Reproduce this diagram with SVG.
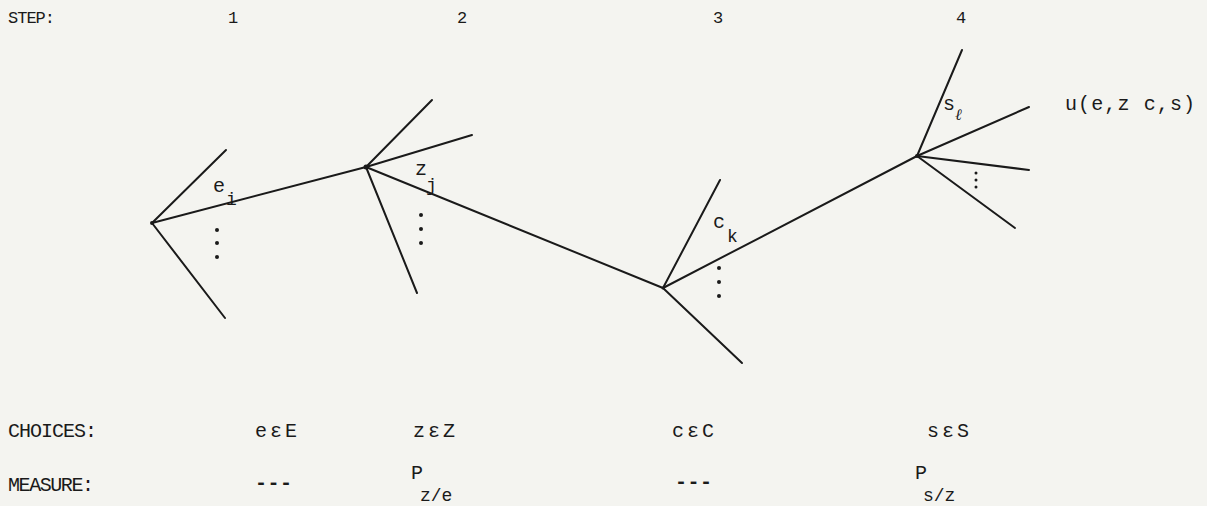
<svg xmlns="http://www.w3.org/2000/svg" width="1207" height="506" viewBox="0 0 1207 506">
<style>
.h{font-family:"Liberation Mono","DejaVu Sans Mono",monospace;font-size:17px;fill:#1a1a1a}
.t{font-family:"Liberation Mono","DejaVu Sans Mono",monospace;font-size:20px;fill:#1a1a1a}
.lb{font-family:"Liberation Mono","DejaVu Sans Mono",monospace;font-size:20px;fill:#1a1a1a}
.sb{font-family:"Liberation Mono","DejaVu Sans Mono",monospace;font-size:18px;fill:#1a1a1a}
.l{stroke:#1a1a1a;stroke-width:2;fill:none;stroke-linecap:round}
.d{fill:#1a1a1a}
</style>
<rect width="1207" height="506" fill="#f4f4f0"/>
<g id="header">
<text class="h" x="8" y="23" textLength="47">STEP:</text>
<text class="h" x="228" y="23">1</text>
<text class="h" x="457" y="23">2</text>
<text class="h" x="713" y="23">3</text>
<text class="h" x="956" y="23">4</text>
</g>
<g id="connectors">
<line class="l" x1="152" y1="223" x2="226" y2="150"/>
<line class="l" x1="152" y1="223" x2="225" y2="318"/>
<line class="l" x1="152" y1="223" x2="366" y2="167"/>
<line class="l" x1="366" y1="167" x2="432" y2="100"/>
<line class="l" x1="366" y1="167" x2="472" y2="135"/>
<line class="l" x1="366" y1="167" x2="417" y2="293"/>
<line class="l" x1="366" y1="167" x2="663" y2="288"/>
<line class="l" x1="663" y1="288" x2="720" y2="180"/>
<line class="l" x1="663" y1="288" x2="917" y2="156"/>
<line class="l" x1="663" y1="288" x2="742" y2="363"/>
<line class="l" x1="917" y1="156" x2="962" y2="50"/>
<line class="l" x1="917" y1="156" x2="1029" y2="107"/>
<line class="l" x1="917" y1="156" x2="1029" y2="170"/>
<line class="l" x1="917" y1="156" x2="1015" y2="228"/>
</g>
<g id="node1">
<circle class="d" cx="152" cy="223" r="2"/>
<text class="lb" x="213" y="192">e</text>
<text class="sb" x="226" y="205">i</text>
<circle class="d" cx="217" cy="230" r="2"/>
<circle class="d" cx="217" cy="243" r="2"/>
<circle class="d" cx="217" cy="257" r="2"/>
</g>
<g id="node2">
<circle class="d" cx="366" cy="167" r="2.5"/>
<text class="lb" x="415" y="175">z</text>
<text class="sb" x="426" y="191">j</text>
<circle class="d" cx="421" cy="215" r="2"/>
<circle class="d" cx="421" cy="229" r="2"/>
<circle class="d" cx="421" cy="243" r="2"/>
</g>
<g id="node3">
<circle class="d" cx="663" cy="288" r="1.5"/>
<text class="lb" x="713" y="228">c</text>
<text class="sb" x="727" y="242">k</text>
<circle class="d" cx="719" cy="268" r="2"/>
<circle class="d" cx="719" cy="282" r="2"/>
<circle class="d" cx="719" cy="296" r="2"/>
</g>
<g id="node4">
<circle class="d" cx="917" cy="156" r="2"/>
<text class="lb" x="943" y="110">s</text>
<text x="955" y="120" font-family="Liberation Serif, serif" font-style="italic" font-size="16" fill="#1a1a1a">ℓ</text>
<circle class="d" cx="976" cy="173" r="1.5"/>
<circle class="d" cx="976" cy="180" r="1.5"/>
<circle class="d" cx="976" cy="187" r="1.5"/>
<text x="1065" y="110" font-family="Liberation Mono, monospace" font-size="20" fill="#1a1a1a" textLength="130">u(e,z c,s)</text>
</g>
<g id="footer">
<text class="t" x="8" y="437" textLength="89">CHOICES:</text>
<text class="t" x="255" y="437" textLength="42">eεE</text>
<text class="t" x="413" y="437" textLength="42">zεZ</text>
<text class="t" x="672" y="437" textLength="42">cεC</text>
<text class="t" x="927" y="437" textLength="42">sεS</text>
<text class="t" x="8" y="491" textLength="86">MEASURE:</text>
<text class="t" x="255" y="489" textLength="37" font-weight="bold">---</text>
<text class="t" x="411" y="479">P</text>
<text class="sb" x="420" y="501">z/e</text>
<text class="t" x="675" y="488" textLength="37" font-weight="bold">---</text>
<text class="t" x="915" y="479">P</text>
<text class="sb" x="923" y="501">s/z</text>
</g>
</svg>
